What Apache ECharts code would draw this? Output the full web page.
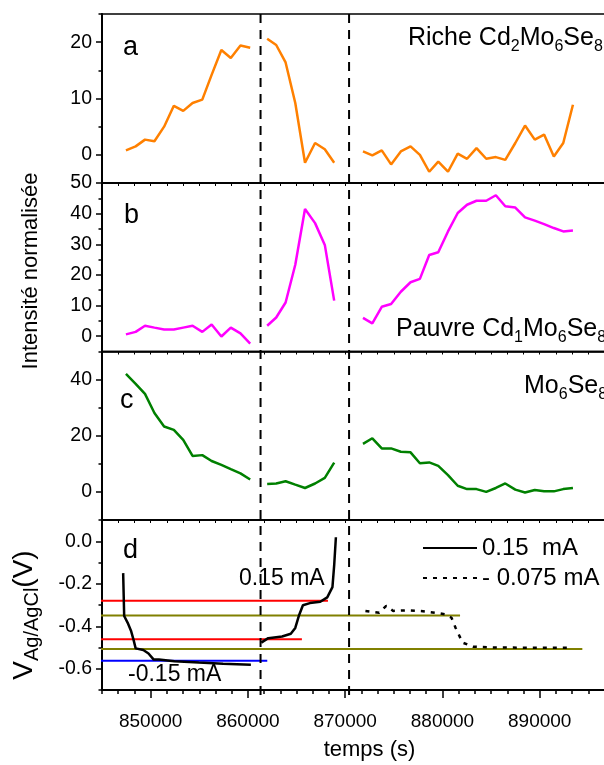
<!DOCTYPE html>
<html><head><meta charset="utf-8">
<script src="https://cdn.jsdelivr.net/npm/echarts@6/dist/echarts.min.js"></script>
<style>html,body{margin:0;padding:0;background:#fff}#c{width:604px;height:765px}</style>
</head><body><div id="c"></div>
<script>
const FONT = '"Liberation Sans", Arial, Helvetica, sans-serif';

// ---- time stamps (s) of the three acquisition windows ----
const tSeg1 = [847460, 848460, 849420, 850390, 851385, 852385, 853350, 854310, 855310, 856270, 857270, 858240, 859235, 860235];
const tSeg2 = [861980, 862910, 863875, 864870, 865870, 866905, 867905, 868870];
const tSeg3 = [871830, 872790, 873760, 874720, 875720, 876720, 877680, 878640, 879570, 880570, 881570, 882530, 883500, 884500, 885490, 886460, 887490, 888490, 889490, 890450, 891450, 892420, 893415];

// ---- panel a : Riche Cd2Mo6Se8 ----
const richeSeg1 = [0.8, 1.5, 2.7, 2.4, 5.0, 8.7, 7.8, 9.2, 9.8, 14.2, 18.6, 17.2, 19.4, 19.0];
const richeSeg2 = [20.6, 19.5, 16.4, 9.2, -1.4, 2.1, 1.0, -1.4];
const richeSeg3 = [0.6, -0.1, 0.8, -1.7, 0.6, 1.5, 0.0, -3.0, -1.2, -3.0, 0.2, -0.7, 1.2, -0.7, -0.4, -0.9, 2.1, 5.2, 2.7, 3.6, -0.3, 2.1, 8.9];
// ---- panel b : Pauvre Cd1Mo6Se8 ----
const pauvreSeg1 = [0.6, 1.4, 3.4, 2.8, 2.2, 2.2, 2.8, 3.4, 1.4, 3.8, -0.1, 2.8, 0.9, -2.4];
const pauvreSeg2 = [3.4, 6.1, 11.0, 23.3, 41.5, 36.9, 29.8, 11.6];
const pauvreSeg3 = [6.0, 4.2, 9.6, 10.5, 14.5, 17.6, 18.7, 26.5, 27.4, 34.2, 40.2, 42.9, 44.2, 44.2, 46.0, 42.4, 42.0, 38.8, 37.7, 36.6, 35.3, 34.2, 34.5];
// ---- panel c : Mo6Se8 ----
const mo6Seg1 = [42.0, 38.5, 34.9, 28.1, 23.3, 22.1, 18.5, 12.8, 13.1, 11.0, 9.6, 8.1, 6.6, 4.4];
const mo6Seg2 = [2.8, 3.0, 3.8, 2.6, 1.4, 3.0, 5.0, 10.4];
const mo6Seg3 = [17.1, 19.1, 15.5, 15.5, 14.3, 14.1, 10.2, 10.5, 9.3, 6.0, 2.2, 1.0, 1.0, 0.0, 1.4, 3.0, 0.8, -0.2, 0.7, 0.2, 0.2, 1.0, 1.4];

// ---- panel d : potential ----
const dischT = [847175, 847280, 847640, 848000, 848245, 848460, 849245, 849780, 850315, 850850, 852455, 854955, 857450, 860305];
const dischV = [-0.150, -0.352, -0.384, -0.424, -0.464, -0.504, -0.512, -0.528, -0.557, -0.557, -0.565, -0.571, -0.576, -0.581];
const chargeT = [861375, 862090, 863515, 864410, 864870, 865230, 865655, 866370, 867440, 868155, 868690, 868870, 869045];
const chargeV = [-0.477, -0.456, -0.448, -0.435, -0.408, -0.352, -0.301, -0.291, -0.285, -0.264, -0.216, -0.112, 0.019];
const dotT = [872080, 873505, 874220, 874935, 876360, 877790, 879215, 880285, 880930, 881355, 882070, 883140, 885280, 888850, 893310];
const dotV = [-0.328, -0.336, -0.304, -0.328, -0.325, -0.328, -0.336, -0.344, -0.360, -0.408, -0.477, -0.496, -0.500, -0.501, -0.501];

// reference levels: start time, end time, potential
const levelStart = [844540, 844350, 844860, 844540, 844450];
const levelEnd   = [868230, 881810, 865550, 894380, 861990];
const levelV     = [-0.280, -0.349, -0.461, -0.507, -0.562];
const levelColor = ['#FF0000', '#808000', '#FF0000', '#808000', '#0000FF'];

// vertical separators
const dividers = [861300, 870400];

// ---- axis ticks ----
const X_MIN = 845000, X_MAX = 900000;
const xMajor = [850000, 860000, 870000, 880000, 890000];
const xMinor = []; for (let k = 0; k <= 33; k++) xMinor.push(X_MIN + k * 10000 / 6);
const aMajor = [0, 10, 20], aMinor = [-5, 5, 15, 25];
const bMajor = [0, 10, 20, 30, 40, 50], bMinor = [-5, 5, 15, 25, 35, 45];
const cMajor = [0, 20, 40], cMinor = [-10, 10, 30, 50];
const dMajor = [0, -0.2, -0.4, -0.6], dMinor = [0.1, -0.1, -0.3, -0.5, -0.7];

const LEFT = 102, WIDTH = 535;
const panels = [
  {top: 14, height: 169, min: -5, max: 25, major: aMajor, minor: aMinor, fmt: v => String(v)},
  {top: 183, height: 168.5, min: -5, max: 50, major: bMajor, minor: bMinor, fmt: v => String(v)},
  {top: 351.5, height: 168.5, min: -10, max: 50, major: cMajor, minor: cMinor, fmt: v => String(v)},
  {top: 520, height: 170, min: -0.7, max: 0.1, major: dMajor, minor: dMinor, fmt: v => v.toFixed(1)}
];

const grid = [], xAxis = [], yAxis = [];
panels.forEach((p, i) => {
  grid.push({left: LEFT, width: WIDTH, top: p.top, height: p.height, show: true,
    borderColor: '#000', borderWidth: 1.5, backgroundColor: 'transparent', outerBoundsMode: 'none', containLabel: false});
  yAxis.push({type: 'value', gridIndex: i, min: p.min, max: p.max, position: 'left',
    axisLine: {show: true, onZero: false, lineStyle: {color: '#000', width: 2}},
    axisTick: {show: true, customValues: p.major, length: 6, lineStyle: {color: '#000', width: 1.5}},
    axisLabel: {show: true, customValues: p.major, formatter: p.fmt, fontSize: 19.5, color: '#000', fontFamily: FONT, margin: 10},
    splitLine: {show: false}});
  yAxis.push({type: 'value', gridIndex: i, min: p.min, max: p.max, position: 'left',
    axisLine: {show: false, onZero: false},
    axisTick: {show: true, customValues: p.minor, length: 3.5, lineStyle: {color: '#000', width: 1.5}},
    axisLabel: {show: false}, splitLine: {show: false}});
});
// x axes for panels a-c (small ticks only)
for (let i = 0; i < 3; i++) {
  xAxis.push({type: 'value', gridIndex: i, min: X_MIN, max: X_MAX, position: 'bottom',
    axisLine: {show: true, onZero: false, lineStyle: {color: '#000', width: 1.5}},
    axisTick: {show: true, customValues: xMinor, length: 3, inside: false, lineStyle: {color: '#000', width: 1}},
    axisLabel: {show: false}, splitLine: {show: false}});
}
// panel d: main x axis
xAxis.push({type: 'value', gridIndex: 3, min: X_MIN, max: X_MAX, position: 'bottom',
  name: 'temps (s)', nameLocation: 'middle', nameGap: 49,
  nameTextStyle: {fontSize: 22, color: '#000', fontFamily: FONT},
  axisLine: {show: true, onZero: false, lineStyle: {color: '#000', width: 2}},
  axisTick: {show: true, customValues: xMajor, length: 8, lineStyle: {color: '#000', width: 1.5}},
  axisLabel: {show: true, customValues: xMajor, formatter: v => String(v), fontSize: 19, color: '#000', fontFamily: FONT, margin: 22},
  splitLine: {show: false}});
xAxis.push({type: 'value', gridIndex: 3, min: X_MIN, max: X_MAX, position: 'bottom',
  axisLine: {show: false, onZero: false},
  axisTick: {show: true, customValues: xMinor, length: 4, lineStyle: {color: '#000', width: 1.5}},
  axisLabel: {show: false}, splitLine: {show: false}});
// overlay grid for the vertical separators
grid.push({left: LEFT, width: WIDTH, top: 10, height: 685, show: false, outerBoundsMode: 'none', containLabel: false});
xAxis.push({type: 'value', gridIndex: 4, min: X_MIN, max: X_MAX, show: false, axisLine: {onZero: false}});
yAxis.push({type: 'value', gridIndex: 4, min: 0, max: 1, show: false, axisLine: {onZero: false}});

const pairs = (ts, vs) => ts.map((t, i) => [t, vs[i]]);
const series = [];
function addPanel(xi, yi, color, segs) {
  segs.forEach(([ts, vs]) => series.push({type: 'line', xAxisIndex: xi, yAxisIndex: yi, data: pairs(ts, vs),
    showSymbol: false, symbol: 'none', lineStyle: {color, width: 2.5}, itemStyle: {color}, z: 3}));
}
addPanel(0, 0, '#FF8000', [[tSeg1, richeSeg1], [tSeg2, richeSeg2], [tSeg3, richeSeg3]]);
addPanel(1, 2, '#FF00FF', [[tSeg1, pauvreSeg1], [tSeg2, pauvreSeg2], [tSeg3, pauvreSeg3]]);
addPanel(2, 4, '#008000', [[tSeg1, mo6Seg1], [tSeg2, mo6Seg2], [tSeg3, mo6Seg3]]);

levelV.forEach((v, i) => series.push({type: 'line', xAxisIndex: 3, yAxisIndex: 6, clip: false,
  data: [[levelStart[i], v], [levelEnd[i], v]], symbol: 'none',
  lineStyle: {color: levelColor[i], width: 2}, z: 2}));

series.push({name: '0.15  mA', type: 'line', xAxisIndex: 3, yAxisIndex: 6, data: pairs(dischT, dischV),
  symbol: 'none', lineStyle: {color: '#000', width: 2.5}, itemStyle: {color: '#000'}, z: 4});
series.push({name: '0.15  mA', type: 'line', xAxisIndex: 3, yAxisIndex: 6, data: pairs(chargeT, chargeV),
  symbol: 'none', lineStyle: {color: '#000', width: 2.5}, itemStyle: {color: '#000'}, z: 4});
series.push({name: '- 0.075 mA', type: 'line', xAxisIndex: 3, yAxisIndex: 6, data: pairs(dotT, dotV),
  symbol: 'none', lineStyle: {color: '#000', width: 2.5, type: [4, 6]}, itemStyle: {color: '#000'}, z: 4});

dividers.forEach(t => series.push({type: 'line', xAxisIndex: 5, yAxisIndex: 8, data: [[t, 0], [t, 1]],
  symbol: 'none', lineStyle: {color: '#000', width: 2, type: [9, 7]}, z: 5}));

// ---- texts ----
function txt(x, baseline, text, fs) {
  return {type: 'text', x: x, y: baseline - 0.3465 * fs, z: 1,
    style: {text, fontSize: fs, fontFamily: FONT, fill: '#000', align: 'left', verticalAlign: 'middle'}};
}
// rich text with subscripts: the sub token is pushed down with a top padding
function richDef(F, S) {
  const P = 2 * (0.2 * F + 0.3465 * (F - S));
  return {m: {fontSize: F, fontFamily: FONT, fill: '#000'},
          s: {fontSize: S, fontFamily: FONT, fill: '#000', padding: [P, 0, 0, 0]}};
}
function subText(x, baseline, parts, F, S) {
  const str = parts.map(([t, s]) => '{' + (s ? 's' : 'm') + '|' + t + '}').join('');
  return {type: 'text', x: x, y: baseline - 0.3465 * F, z: 1,
    style: {text: str, fontFamily: FONT, fill: '#000', align: 'left', verticalAlign: 'middle', rich: richDef(F, S)}};
}
const graphic = [
  txt(123, 57, 'a', 27), txt(124, 225, 'b', 27), txt(120, 410, 'c', 27), txt(123, 560, 'd', 27),
  subText(408, 47, [['Riche Cd', 0], ['2', 1], ['Mo', 0], ['6', 1], ['Se', 0], ['8', 1]], 25, 16),
  subText(396, 338, [['Pauvre Cd', 0], ['1', 1], ['Mo', 0], ['6', 1], ['Se', 0], ['8', 1]], 25, 16),
  subText(524, 395, [['Mo', 0], ['6', 1], ['Se', 0], ['8', 1]], 25, 16),
  txt(239, 587, '0.15 mA', 23),
  txt(128, 683, '-0.15 mA', 23),
  {type: 'text', x: 31, y: 271, rotation: Math.PI / 2, z: 1,
    style: {text: 'Intensité normalisée', fontSize: 22, fontFamily: FONT, fill: '#000', align: 'center', verticalAlign: 'middle'}},
  {type: 'text', x: 34 - 0.3465 * 28, y: 615, rotation: Math.PI / 2, z: 1,
    style: {text: '{m|V}{s|Ag/AgCl}{m|(V)}', fontFamily: FONT, fill: '#000', align: 'center', verticalAlign: 'middle',
      rich: richDef(28, 20)}}
];

const chart = echarts.init(document.getElementById('c'), null, {renderer: 'canvas'});
chart.setOption({
  animation: false,
  backgroundColor: '#fff',
  grid, xAxis, yAxis, series, graphic,
  legend: {data: ['0.15  mA', '- 0.075 mA'], orient: 'vertical', left: 422, top: 535, padding: 0,
    itemWidth: 54, itemHeight: 14, itemGap: 4, selectedMode: false,
    itemStyle: {opacity: 0, color: 'rgba(0,0,0,0)', borderWidth: 0},
    textStyle: {fontSize: 24, color: '#000', fontFamily: FONT, lineHeight: 26}}
});
</script></body></html>
